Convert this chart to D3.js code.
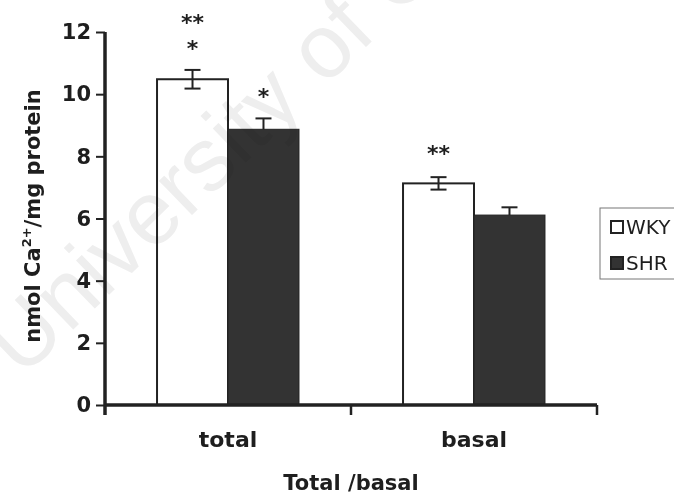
<!DOCTYPE html>
<html>
<head>
<meta charset="utf-8">
<script src="https://cdn.jsdelivr.net/npm/d3@7"></script>
<style>
  body { margin: 0; background: #fff; }
  svg { display: block; }
</style>
</head>
<body>
<div id="chart"></div>
<script>
(function () {
  // data
  const categories = ['total', 'basal'];
  const series = ['WKY', 'SHR'];
  const wkyValues = [10.48, 7.13];
  const shrValues = [8.87, 6.11];
  const wkyErrors = [0.3, 0.2];
  const shrErrors = [0.35, 0.25];
  const wkyStars = ['**\n*', '**'];
  const shrStars = ['*', ''];
  const yTicks = [0, 2, 4, 6, 8, 10, 12];

  const width = 674, height = 496;
  const margin = { top: 32, right: 77, bottom: 91, left: 105 };
  const innerW = width - margin.left - margin.right;
  const innerH = height - margin.top - margin.bottom;

  const fill = { WKY: '#ffffff', SHR: '#333333' };
  const values = { WKY: wkyValues, SHR: shrValues };
  const errors = { WKY: wkyErrors, SHR: shrErrors };
  const stars = { WKY: wkyStars, SHR: shrStars };

  const svg = d3.select('#chart')
    .append('svg')
    .attr('width', width)
    .attr('height', height);

  const g = svg.append('g')
    .attr('transform', `translate(${margin.left},${margin.top})`);

  const x0 = d3.scaleBand()
    .domain(categories)
    .range([0, innerW])
    .paddingInner(0.423)
    .paddingOuter(0.2115);

  const x1 = d3.scaleBand()
    .domain(series)
    .range([0, x0.bandwidth()]);

  const y = d3.scaleLinear().domain([0, 12]).range([innerH, 0]);

  const rows = [];
  categories.forEach((c, i) => {
    series.forEach((s) => {
      rows.push({ cat: c, key: s, value: values[s][i], err: errors[s][i], star: stars[s][i] });
    });
  });

  // bars
  g.selectAll('rect.bar')
    .data(rows)
    .join('rect')
    .attr('class', 'bar')
    .attr('x', (d) => x0(d.cat) + x1(d.key))
    .attr('y', (d) => y(d.value))
    .attr('width', x1.bandwidth())
    .attr('height', (d) => innerH - y(d.value))
    .attr('fill', (d) => fill[d.key])
    .attr('stroke', '#222')
    .attr('stroke-width', (d) => (d.key === 'WKY' ? 2 : 1));

  // error bars (SHR shows only upper half)
  const cap = 8;
  rows.forEach((d) => {
    const cx = x0(d.cat) + x1(d.key) + x1.bandwidth() / 2;
    const lo = d.key === 'WKY' ? d.value - d.err : d.value;
    g.append('line')
      .attr('x1', cx).attr('x2', cx)
      .attr('y1', y(lo)).attr('y2', y(d.value + d.err))
      .attr('stroke', '#222').attr('stroke-width', 2);
    g.append('line')
      .attr('x1', cx - cap).attr('x2', cx + cap)
      .attr('y1', y(d.value + d.err)).attr('y2', y(d.value + d.err))
      .attr('stroke', '#222').attr('stroke-width', 2);
    if (d.key === 'WKY') {
      g.append('line')
        .attr('x1', cx - cap).attr('x2', cx + cap)
        .attr('y1', y(lo)).attr('y2', y(lo))
        .attr('stroke', '#222').attr('stroke-width', 2);
    }
  });

  // significance stars
  rows.filter((d) => d.star).forEach((d) => {
    const cx = x0(d.cat) + x1(d.key) + x1.bandwidth() / 2;
    const lines = d.star.split('\n');
    const gap = d.cat === 'basal' ? 16 : 14;
    const top = y(d.value + d.err) - gap - (lines.length - 1) * 26;
    lines.forEach((t, i) => {
      g.append('text')
        .attr('x', cx)
        .attr('y', top + i * 26)
        .attr('text-anchor', 'middle')
        .style('font-family', 'DejaVu Sans')
        .style('font-weight', 'bold')
        .style('font-size', '22px')
        .attr('fill', '#1e1e1e')
        .text(t);
    });
  });

  // y axis
  const yAxis = d3.axisLeft(y).tickValues(yTicks).tickSize(9).tickPadding(5);
  const yG = g.append('g').attr('class', 'axis y-axis').call(yAxis);
  yG.select('.domain').remove();
  yG.selectAll('.tick line').attr('stroke', '#222').attr('stroke-width', 2);
  yG.selectAll('.tick text')
    .style('font-family', 'DejaVu Sans')
    .style('font-weight', 'bold')
    .style('font-size', '21px')
    .attr('fill', '#1e1e1e');
  g.append('line')
    .attr('x1', 0).attr('x2', 0)
    .attr('y1', y(12)).attr('y2', innerH + 10)
    .attr('stroke', '#222').attr('stroke-width', 3.5);

  // x axis
  g.append('line')
    .attr('x1', 0).attr('x2', innerW)
    .attr('y1', innerH).attr('y2', innerH)
    .attr('stroke', '#222').attr('stroke-width', 3.5);
  const step = x0.step();
  const edges = categories.map((c) => x0(c) + x0.bandwidth() / 2 + step / 2);
  g.selectAll('line.edge')
    .data(edges)
    .join('line')
    .attr('class', 'edge')
    .attr('x1', (d) => d).attr('x2', (d) => d)
    .attr('y1', innerH).attr('y2', innerH + 10)
    .attr('stroke', '#222').attr('stroke-width', 2.5);

  const xAxis = d3.axisBottom(x0).tickSize(0).tickPadding(26);
  const xG = g.append('g')
    .attr('transform', `translate(0,${innerH})`)
    .call(xAxis);
  xG.select('.domain').remove();
  xG.selectAll('.tick text')
    .style('font-family', 'DejaVu Sans')
    .style('font-weight', 'bold')
    .style('font-size', '22px')
    .attr('fill', '#1e1e1e');

  // axis titles
  svg.append('text')
    .attr('x', margin.left + innerW / 2)
    .attr('y', 490)
    .attr('text-anchor', 'middle')
    .style('font-family', 'DejaVu Sans')
    .style('font-weight', 'bold')
    .style('font-size', '21px')
    .attr('fill', '#1e1e1e')
    .text('Total /basal');

  const yTitle = svg.append('text')
    .attr('transform', 'translate(40,216) rotate(-90)')
    .attr('text-anchor', 'middle')
    .style('font-family', 'DejaVu Sans')
    .style('font-weight', 'bold')
    .style('font-size', '21px')
    .attr('fill', '#1e1e1e');
  yTitle.append('tspan').text('nmol Ca');
  yTitle.append('tspan').attr('dy', -9).style('font-size', '13px').text('2+');
  yTitle.append('tspan').attr('dy', 9).text('/mg protein');

  // legend
  const legend = svg.append('g').attr('transform', 'translate(600,208)');
  legend.append('rect')
    .attr('x', 0).attr('y', 0)
    .attr('width', 90).attr('height', 71)
    .attr('fill', '#fff')
    .attr('stroke', '#777')
    .attr('stroke-width', 1);
  series.forEach((s, i) => {
    const row = legend.append('g').attr('transform', `translate(0,${19 + i * 36})`);
    row.append('rect')
      .attr('x', 11).attr('y', -6)
      .attr('width', 12).attr('height', 12)
      .attr('fill', fill[s])
      .attr('stroke', '#222')
      .attr('stroke-width', 2);
    row.append('text')
      .attr('x', 26).attr('y', 7)
      .style('font-family', 'DejaVu Sans')
      .style('font-size', '20px')
      .attr('fill', '#1e1e1e')
      .text(s);
  });

  // faint watermark laid over the figure
  svg.append('text')
    .attr('transform', 'translate(22,379) rotate(-44)')
    .style('font-family', 'Liberation Sans')
    .style('font-size', '90px')
    .style('mix-blend-mode', 'multiply')
    .attr('fill', '#eeeeee')
    .text('University of C');
})();
</script>
</body>
</html>
